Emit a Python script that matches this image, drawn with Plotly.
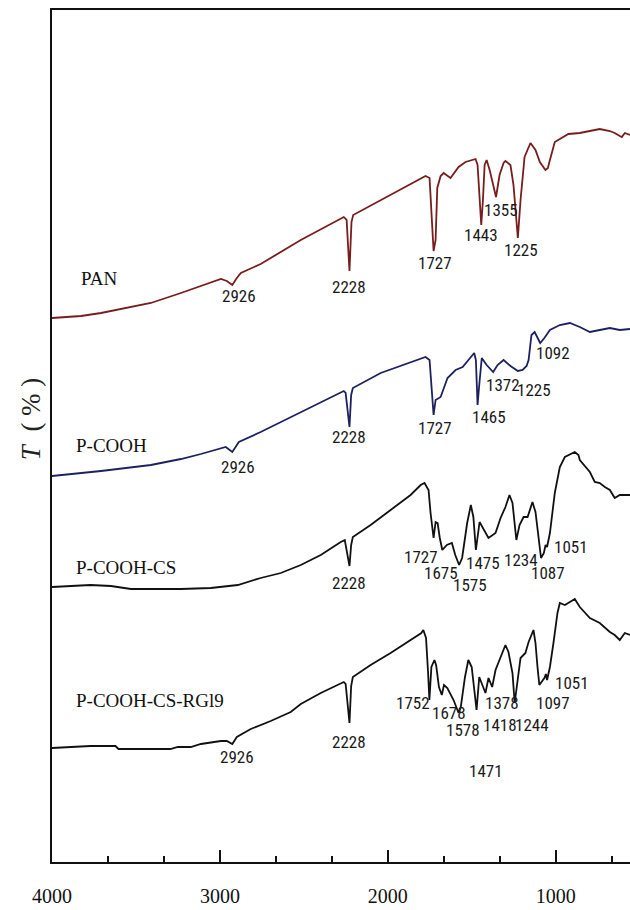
import plotly.graph_objects as go

# FTIR spectra (wavenumber in cm^-1, transmittance in offset arbitrary units)
pan_wn = [4000, 3827, 3708, 3589, 3411, 3232, 3113, 2994, 2959, 2926, 2899, 2875, 2757, 2518,
          2262, 2245, 2228, 2216, 2206, 2042, 1775, 1751, 1727, 1715, 1705, 1685, 1667, 1626,
          1578, 1537, 1477, 1465, 1443, 1433, 1423, 1411, 1393, 1355, 1334, 1310, 1299, 1269,
          1251, 1225, 1209, 1185, 1150, 1120, 1094, 1061, 1046, 1034, 1005, 975, 924, 856, 796,
          737, 677, 648, 618, 606, 588, 557]
pan_t = [54.4, 54.6, 54.9, 55.3, 55.9, 56.9, 57.6, 58.3, 58.1, 57.7, 58.4, 58.9, 59.8, 62.2,
         64.5, 64.2, 59.1, 64.0, 64.7, 66.2, 68.6, 68.4, 61.1, 62.2, 67.4, 68.6, 68.9, 68.4,
         69.5, 70.0, 70.3, 69.7, 63.7, 66.2, 69.7, 70.2, 69.2, 66.5, 68.7, 69.9, 70.1, 69.7,
         67.7, 62.4, 66.2, 70.5, 71.9, 71.2, 70.0, 69.2, 69.4, 70.2, 72.0, 72.3, 72.8, 72.9, 73.1,
         73.3, 73.1, 72.9, 72.6, 72.5, 72.9, 72.7]

pcooh_wn = [4000, 3708, 3411, 3232, 3113, 2965, 2926, 2887, 2757, 2518, 2262, 2251, 2228, 2218,
            2208, 2042, 1775, 1751, 1727, 1715, 1685, 1644, 1596, 1554, 1507, 1485, 1475, 1465,
            1455, 1440, 1411, 1372, 1346, 1310, 1269, 1225, 1197, 1173, 1161, 1144, 1125, 1108,
            1092, 1067, 1034, 975, 915, 856, 796, 737, 677, 618, 557]
pcooh_t = [38.6, 39.1, 39.7, 40.3, 40.8, 41.5, 41.0, 42.0, 43.0, 45.0, 47.1, 46.9, 43.5, 46.7,
           47.4, 48.9, 50.5, 50.2, 44.7, 46.2, 46.5, 48.4, 49.2, 49.5, 50.4, 50.9, 50.2, 45.7,
           47.7, 50.4, 49.7, 49.0, 49.7, 50.2, 49.6, 49.1, 49.2, 49.6, 50.2, 52.7, 53.0, 52.4,
           51.9, 52.4, 53.2, 53.7, 53.9, 53.5, 53.0, 53.2, 53.4, 53.2, 53.3]

pcs_wn = [4000, 3890, 3771, 3649, 3530, 3351, 3232, 3054, 2893, 2757, 2637, 2518, 2399, 2280,
          2256, 2228, 2218, 2208, 2102, 1983, 1864, 1804, 1781, 1757, 1745, 1727, 1715, 1703,
          1690, 1675, 1648, 1618, 1598, 1575, 1557, 1527, 1505, 1490, 1475, 1453, 1435, 1400,
          1358, 1328, 1299, 1275, 1257, 1234, 1215, 1191, 1167, 1138, 1120, 1102, 1087, 1070,
          1060, 1051, 1034, 1005, 975, 945, 904, 886, 864, 856, 796, 767, 737, 707, 677, 648,
          618, 557]
pcs_t = [27.5, 27.6, 27.7, 27.6, 27.3, 27.3, 27.3, 27.4, 27.7, 28.4, 28.9, 29.7, 30.7, 32.0,
         32.2, 29.6, 31.7, 32.5, 33.7, 35.2, 36.7, 37.7, 37.9, 37.2, 34.9, 32.4, 34.0, 33.9,
         32.4, 31.2, 31.7, 31.9, 30.7, 29.7, 30.4, 33.9, 35.7, 34.5, 31.2, 34.0, 33.5, 32.4,
         32.9, 34.4, 35.5, 36.7, 35.9, 32.2, 33.7, 34.5, 34.5, 36.0, 35.0, 32.5, 30.4, 30.9,
         31.7, 31.5, 32.9, 36.9, 39.5, 40.5, 40.9, 41.0, 40.7, 40.2, 39.0, 38.0, 37.9, 37.5,
         37.2, 36.4, 36.7, 36.7]

prg_wn = [4000, 3771, 3622, 3604, 3473, 3295, 3250, 3173, 3113, 2994, 2959, 2926, 2899, 2816,
          2697, 2578, 2518, 2399, 2262, 2251, 2228, 2218, 2208, 2102, 1983, 1864, 1800, 1788,
          1772, 1760, 1752, 1740, 1722, 1712, 1695, 1678, 1665, 1645, 1628, 1608, 1578, 1565,
          1540, 1520, 1500, 1471, 1455, 1440, 1418, 1400, 1378, 1358, 1328, 1299, 1281, 1257,
          1244, 1227, 1209, 1180, 1161, 1132, 1120, 1108, 1097, 1067, 1058, 1051, 1034, 1013,
          989, 975, 945, 915, 886, 856, 796, 737, 677, 648, 618, 588, 557]
prg_t = [11.4, 11.6, 11.6, 11.3, 11.3, 11.3, 11.5, 11.5, 11.8, 12.1, 12.1, 11.8, 12.5, 13.3,
         14.1, 15.0, 15.8, 16.9, 18.0, 17.8, 13.9, 17.6, 18.5, 19.7, 20.9, 22.2, 22.9, 23.2,
         22.4, 19.0, 16.2, 19.5, 20.2, 19.7, 17.5, 16.7, 17.7, 17.4, 16.9, 16.2, 14.9, 15.5,
         18.5, 20.2, 19.5, 15.2, 18.5, 17.9, 16.9, 18.4, 17.5, 19.2, 20.4, 21.7, 21.0, 18.9,
         15.9, 17.9, 20.4, 20.9, 22.0, 23.2, 21.9, 19.5, 17.7, 18.4, 18.8, 18.2, 19.5, 21.9,
         24.9, 25.9, 25.7, 26.0, 26.3, 25.5, 24.4, 23.9, 23.0, 22.7, 22.2, 22.9, 22.7]

series_names = ["PAN", "P-COOH", "P-COOH-CS", "P-COOH-CS-RGl9"]
series_wn = [pan_wn, pcooh_wn, pcs_wn, prg_wn]
series_t = [pan_t, pcooh_t, pcs_t, prg_t]
series_colors = ["#781c1c", "#1e2160", "#111111", "#111111"]

# band labels: text, label x (cm^-1), label y
pan_peaks = ["2926", "2228", "1727", "1443", "1355", "1225"]
pan_peak_x = [2887, 2232, 1721, 1447, 1328, 1209]
pan_peak_y = [56.6, 57.5, 59.9, 62.7, 65.2, 61.2]

pcooh_peaks = ["2926", "2228", "1727", "1465", "1372", "1225", "1092"]
pcooh_peak_x = [2893, 2232, 1721, 1399, 1316, 1126, 1013]
pcooh_peak_y = [39.5, 42.5, 43.4, 44.5, 47.7, 47.2, 50.9]

pcs_peaks = ["2228", "1727", "1675", "1575", "1475", "1234", "1087", "1051"]
pcs_peak_x = [2232, 1804, 1685, 1512, 1435, 1209, 1048, 911]
pcs_peak_y = [27.9, 30.5, 28.9, 27.7, 29.9, 30.2, 28.9, 31.5]

prg_peaks = ["2926", "2228", "1752", "1678", "1578", "1378", "1418", "1244", "1097", "1051", "1471"]
prg_peak_x = [2899, 2232, 1852, 1637, 1554, 1322, 1334, 1138, 1013, 900, 1417]
prg_peak_y = [10.5, 12.0, 15.9, 14.9, 13.2, 15.9, 13.7, 13.7, 15.9, 17.9, 9.1]

name_x = [3839, 3869, 3869, 3869]
name_y = [58.4, 41.7, 29.5, 16.2]

x_ticks = [4000, 3000, 2000, 1000]

fig = go.Figure()
for wn, t, c in zip(series_wn, series_t, series_colors):
    fig.add_trace(go.Scatter(x=wn, y=t, mode="lines",
                             line=dict(color=c, width=1.8), showlegend=False,
                             hoverinfo="skip"))

peak_font = dict(family="Liberation Sans Narrow, Roboto Condensed, Roboto, sans-serif",
                 size=17, color="#1a1a1a")
annotations = []
for texts, xs, ys in [(pan_peaks, pan_peak_x, pan_peak_y),
                      (pcooh_peaks, pcooh_peak_x, pcooh_peak_y),
                      (pcs_peaks, pcs_peak_x, pcs_peak_y),
                      (prg_peaks, prg_peak_x, prg_peak_y)]:
    for s, xv, yv in zip(texts, xs, ys):
        annotations.append(dict(x=xv, y=yv, xref="x", yref="y", text=s,
                                showarrow=False, font=peak_font,
                                xanchor="center", yanchor="middle"))

for s, xv, yv in zip(series_names, name_x, name_y):
    annotations.append(dict(x=xv, y=yv, xref="x", yref="y", text=s, showarrow=False,
                            font=dict(family="Liberation Serif", size=19, color="#111111"),
                            xanchor="left", yanchor="middle"))

annotations.append(dict(x=-0.036, y=0.52, xref="paper", yref="paper",
                        text="<i>T</i>  ( % )", textangle=-90, showarrow=False,
                        font=dict(family="Liberation Serif", size=27, color="#222222"),
                        xanchor="center", yanchor="middle"))

fig.update_layout(
    width=630, height=910,
    margin=dict(l=52, r=0, t=10, b=48),
    paper_bgcolor="white", plot_bgcolor="white",
    annotations=annotations,
    xaxis=dict(range=[4000, 557], tickvals=x_ticks, ticktext=[str(v) for v in x_ticks],
               ticks="inside", ticklen=12, tickwidth=2, tickcolor="#111111",
               minor=dict(dtick=1000 / 3, tick0=4000, ticks="inside", ticklen=6,
                          tickwidth=1.5, tickcolor="#111111"),
               showline=True, linewidth=2.2, linecolor="#111111", mirror=True,
               showgrid=False, zeroline=False, ticklabelstandoff=15,
               tickfont=dict(family="Liberation Serif", size=20, color="#111111")),
    yaxis=dict(range=[0, 85.2], showticklabels=False, ticks="",
               showline=True, linewidth=2.2, linecolor="#111111",
               showgrid=False, zeroline=False),
)

fig.write_html("out.html")
